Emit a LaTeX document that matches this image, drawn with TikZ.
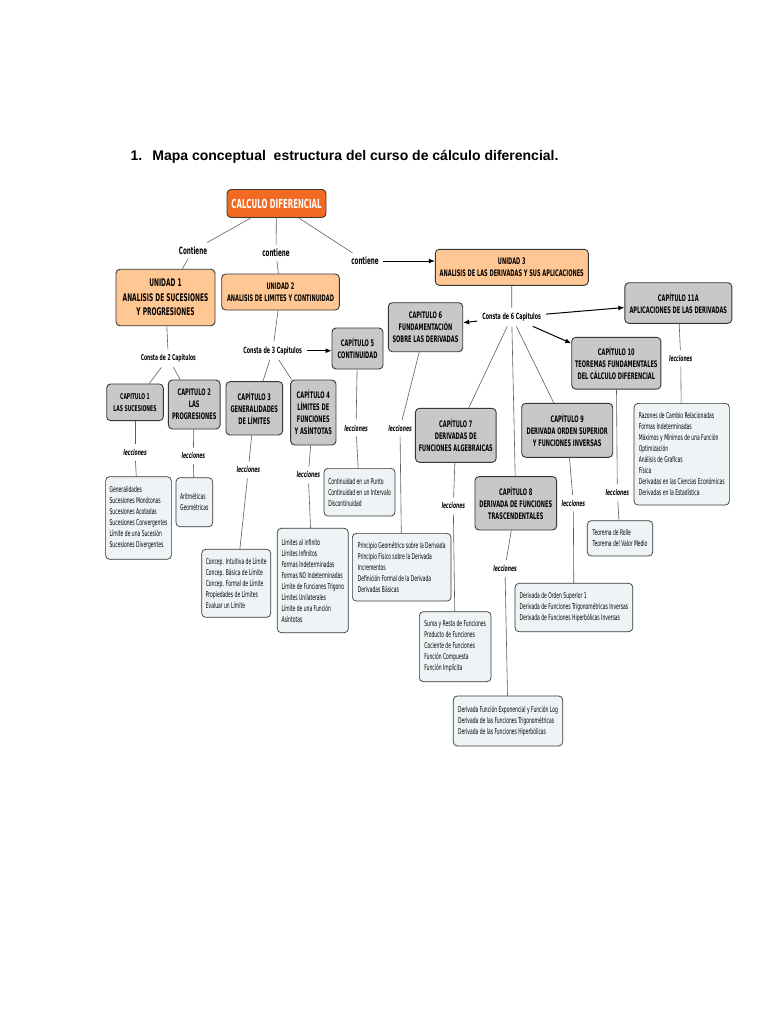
\documentclass[tikz,border=0pt]{standalone}
\usepackage{fontspec}
\setmainfont{Liberation Sans}
\newfontfamily\mapfont[FakeStretch=0.56]{DejaVu Sans}
\usetikzlibrary{positioning, arrows.meta}

\definecolor{rootorange}{RGB}{242,106,33}
\definecolor{unitpeach}{RGB}{255,199,148}
\definecolor{chapgray}{RGB}{200,200,200}
\definecolor{leafblue}{RGB}{238,244,246}
\definecolor{boxline}{RGB}{55,55,55}
\definecolor{wiregray}{RGB}{95,95,95}

\tikzset{
  rootbox/.style={draw=boxline, line width=0.9pt, rectangle, rounded corners=4pt, fill=rootorange, text=white, font=\mapfont\bfseries\fontsize{12.5}{14}\selectfont},
  unitbox/.style={draw=boxline, line width=0.9pt, rectangle, rounded corners=4pt, fill=unitpeach, align=center, font=\mapfont\bfseries\fontsize{9}{12.5}\selectfont},
  chapbox/.style={draw=boxline, line width=0.9pt, rectangle, rounded corners=4pt, fill=chapgray, align=center, font=\mapfont\bfseries\fontsize{9}{12}\selectfont},
  leafbox/.style={draw=boxline, line width=0.7pt, rectangle, rounded corners=4pt, fill=leafblue, align=left, inner sep=4pt, font=\mapfont\fontsize{8}{11}\selectfont},
  verbtag/.style={font=\mapfont\bfseries\fontsize{10}{12}\selectfont, inner sep=4pt},
  constatag/.style={font=\mapfont\bfseries\fontsize{8.5}{10}\selectfont, inner sep=5pt},
  lessontag/.style={font=\mapfont\bfseries\itshape\fontsize{8}{10}\selectfont, inner sep=5pt},
  wire/.style={draw=wiregray, line width=0.6pt},
  push/.style={draw=black, line width=1pt, -{Latex[length=6pt,width=5pt]}},
  dims/.style 2 args={minimum width=#1, minimum height=#2}
}

\begin{document}
\begin{tikzpicture}[x=1pt, y=-1pt]
\useasboundingbox[fill=white] (0,0) rectangle (768,1024);

\node[anchor=west, inner sep=0pt, font=\bfseries\fontsize{14}{16}\selectfont] (title) at (130.5,157)
  {1.\hspace{10pt}Mapa conceptual\ \ estructura del curso de cálculo diferencial.};

\node[rootbox, dims={99pt}{28pt}] (root) at (276.5,203.5) {CALCULO DIFERENCIAL};

\node[verbtag] (verb1) at (193,250.5) {Contiene};
\node[verbtag] (verb2) at (276,253) {contiene};
\node[verbtag] (verb3) at (365,261) {contiene};

\node[unitbox, dims={99pt}{56.5pt}, font=\mapfont\bfseries\fontsize{10.5}{14.5}\selectfont] (unit1) at (165.5,297.5)
  {UNIDAD 1\\ANALISIS DE SUCESIONES\\Y PROGRESIONES};
\node[unitbox, dims={117.6pt}{36pt}] (unit2) at (280.5,292) {UNIDAD 2\\ANALISIS DE LIMITES Y CONTINUIDAD};
\node[unitbox, dims={153pt}{36pt}] (unit3) at (511.8,267.3) {UNIDAD 3\\ANALISIS DE LAS DERIVADAS Y SUS APLICACIONES};

\node[constatag, font=\mapfont\bfseries\fontsize{8}{10}\selectfont] (consta2) at (168.3,358.3) {Consta de 2 Capitulos};
\node[constatag] (consta3) at (272.7,350.7) {Consta de 3 Capitulos};
\node[constatag] (consta6) at (511.7,317) {Consta de 6 Capitulos};

\node[chapbox, dims={56.6pt}{36.7pt}, font=\mapfont\bfseries\fontsize{8}{12}\selectfont] (cap1) at (135,402.3) {CAPITULO 1\\LAS SUCESIONES};
\node[chapbox, dims={51.7pt}{49pt}] (cap2) at (194.2,404.5) {CAPITULO 2\\LAS\\PROGRESIONES};
\node[chapbox, dims={56.7pt}{53.3pt}] (cap3) at (254.3,408.3) {CAPÍTULO 3\\GENERALIDADES\\DE LÍMITES};
\node[chapbox, dims={45.3pt}{65pt}] (cap4) at (313.3,412.5) {CAPÍTULO 4\\LÍMITES DE\\FUNCIONES\\Y ASÍNTOTAS};
\node[chapbox, dims={51pt}{41pt}] (cap5) at (357.5,348.5) {CAPÍTULO 5\\CONTINUIDAD};
\node[chapbox, dims={74.4pt}{49pt}] (cap6) at (425.5,327.2) {CAPITULO 6\\FUNDAMENTACIÓN\\SOBRE LAS DERIVADAS};
\node[chapbox, dims={80.3pt}{54pt}] (cap7) at (455.8,435.3) {CAPÍTULO 7\\DERIVADAS DE\\FUNCIONES ALGEBRAICAS};
\node[chapbox, dims={81.7pt}{53.3pt}] (cap8) at (515.8,503.3) {CAPÍTULO 8\\DERIVADA DE FUNCIONES\\TRASCENDENTALES};
\node[chapbox, dims={91pt}{54pt}] (cap9) at (567.2,430.3) {CAPÍTULO 9\\DERIVADA ORDEN SUPERIOR\\Y FUNCIONES INVERSAS};
\node[chapbox, dims={87.3pt}{51.7pt}] (cap10) at (616.3,363.2) {CAPÍTULO 10\\TEOREMAS FUNDAMENTALES\\DEL CÁLCULO DIFERENCIAL};
\node[chapbox, dims={107pt}{40.6pt}] (cap11) at (678.3,303) {CAPÍTULO 11A\\APLICACIONES DE LAS DERIVADAS};

\node[lessontag] (lec1) at (135,452.7) {lecciones};
\node[lessontag] (lec2) at (193.3,456) {lecciones};
\node[lessontag] (lec3) at (248.3,470) {lecciones};
\node[lessontag] (lec4) at (308.3,475) {lecciones};
\node[lessontag] (lec5) at (356,428.3) {lecciones};
\node[lessontag] (lec6) at (400,428.3) {lecciones};
\node[lessontag] (lec7) at (453.3,506) {lecciones};
\node[lessontag] (lec8) at (505,568.3) {lecciones};
\node[lessontag] (lec9) at (573.3,503.3) {lecciones};
\node[lessontag] (lec10) at (617.3,492.7) {lecciones};
\node[lessontag] (lec11) at (680.7,358.3) {lecciones};

\node[leafbox, dims={65pt}{82.6pt}] (leaf1) at (138.5,518) {Generalidades\\Sucesiones Monótonas\\Sucesiones Acotadas\\Sucesiones Convergentes\\Límite de una Sucesión\\Sucesiones Divergentes};
\node[leafbox, dims={36.7pt}{49pt}] (leaf2) at (194.3,502.2) {Aritméticas\\Geométricas};
\node[leafbox, dims={69pt}{68pt}] (leaf3) at (236.2,583.3) {Concep. Intuitiva de Límite\\Concep. Básica de Límite\\Concep. Formal de Límite\\Propiedades de Límites\\Evaluar un Límite};
\node[leafbox, dims={71pt}{104.4pt}] (leaf4) at (312.8,580.5) {Límites al infinito\\Límites Infinitos\\Formas Indeterminadas\\Formas NO Indeterminadas\\Límite de Funciones Trigono\\Límites Unilaterales\\Límite de una Función\\Asíntotas};
\node[leafbox, dims={71pt}{47.7pt}] (leaf5) at (359.5,492.2) {Continuidad en un Punto\\Continuidad en un Intervalo\\Discontinuidad};
\node[leafbox, dims={98.7pt}{67.7pt}] (leaf6) at (401.7,567.2) {Principio Geométrico sobre la Derivada\\Principio Físico sobre la Derivada\\Incrementos\\Definición Formal de la Derivada\\Derivadas Básicas};
\node[leafbox, dims={71.7pt}{70pt}] (leaf7) at (455.2,646.7) {Suma y Resta de Funciones\\Producto de Funciones\\Cociente de Funciones\\Función Compuesta\\Función Implícita};
\node[leafbox, dims={109.4pt}{50pt}] (leaf8) at (508,721) {Derivada Función Exponencial y Función Log\\Derivada de las Funciones Trigonométricas\\Derivada de las Funciones Hiperbólicas};
\node[leafbox, dims={117.7pt}{48.4pt}] (leaf9) at (573.9,607.5) {Derivada de Orden Superior 1\\Derivada de Funciones Trigonométricas Inversas\\Derivada de Funciones Hiperbólicas Inversas};
\node[leafbox, dims={65.4pt}{35.3pt}] (leaf10) at (620,538.3) {Teorema de Rolle\\Teorema del Valor Medio};
\node[leafbox, dims={95.3pt}{101.7pt}] (leaf11) at (681.7,454.2) {Razones de Cambio Relacionadas\\Formas Indeterminadas\\Máximos y Mínimos de una Función\\Optimización\\Análisis de Graficas\\Física\\Derivadas en las Ciencias Económicas\\Derivadas en la Estadística};

\draw[wire] (root) -- (verb1);
\draw[wire] (root) -- (verb2);
\draw[wire] (root) -- (verb3);
\draw[wire] (verb1) -- (unit1);
\draw[wire] (verb2) -- (unit2);
\draw[push] (verb3) -- (verb3 -| unit3.west);

\draw[wire] (unit1) -- (consta2);
\draw[wire] (consta2) -- (cap1);
\draw[wire] (consta2) -- (cap2);
\draw[wire] (unit2) -- (consta3);
\draw[wire] (consta3) -- (cap3);
\draw[wire] (consta3) -- (cap4);
\draw[push] (consta3) -- (consta3 -| cap5.west);
\draw[wire] (unit3) -- (consta6);
\draw[push] (consta6) -- (cap6);
\draw[push] (consta6) -- (cap11);
\draw[push] (consta6) -- (cap10);
\foreach \c in {cap7,cap8,cap9}
  \draw[wire] (consta6) -- (\c);

\foreach \n in {1,...,11} {
  \draw[wire] (cap\n) -- (lec\n);
  \draw[wire] (lec\n) -- (leaf\n);
}
\end{tikzpicture}
\end{document}
